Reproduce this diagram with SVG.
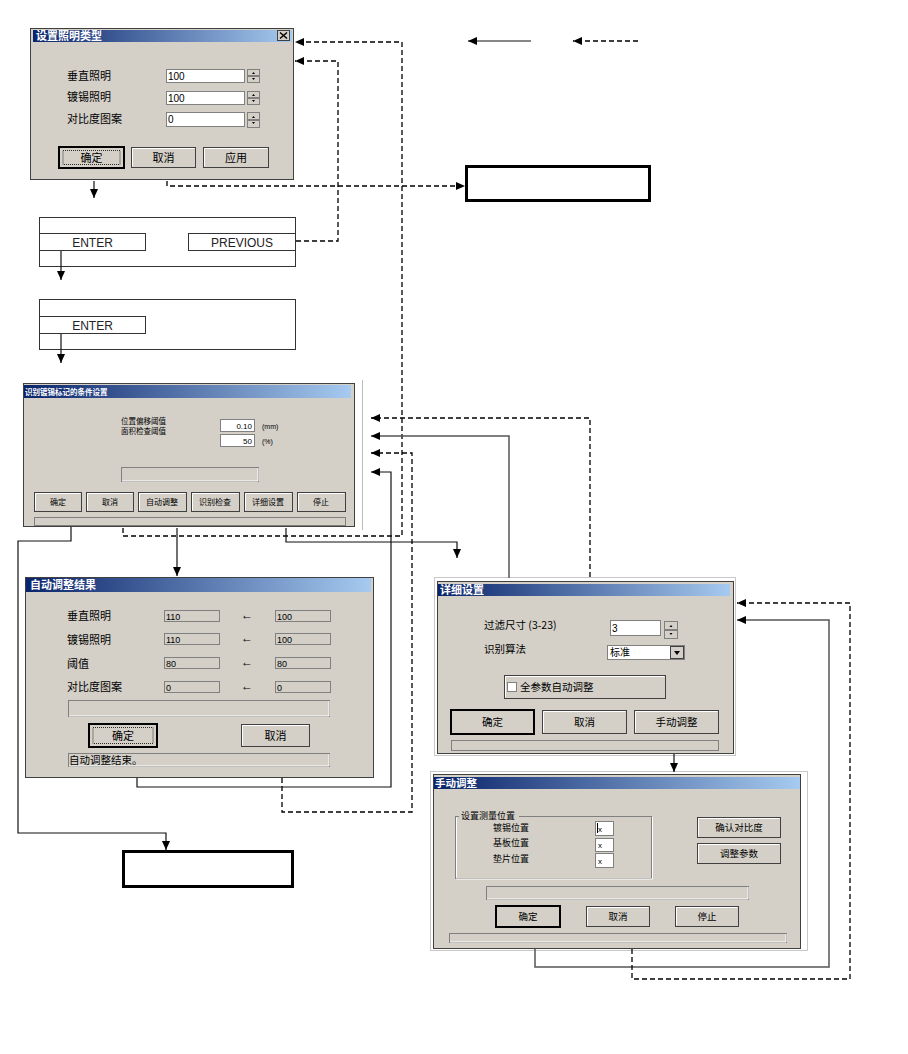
<svg xmlns="http://www.w3.org/2000/svg" width="908" height="1054" viewBox="0 0 908 1054">
<defs>
<linearGradient id="tb" x1="0" y1="0" x2="1" y2="0">
<stop offset="0" stop-color="#0a246a"/>
<stop offset="1" stop-color="#a6caf0"/>
</linearGradient>
<marker id="ah" markerWidth="10" markerHeight="10" refX="9" refY="5" orient="auto" markerUnits="userSpaceOnUse">
<path d="M0,1 L9,5 L0,9 z" fill="#000"/>
</marker>
<style>
.win{fill:#d4d0c8;stroke:#404040;stroke-width:1}
.frame{fill:none;stroke:#c8c8c8;stroke-width:1}
.btn{fill:#d4d0c8;stroke:#404040;stroke-width:1}
.dbtn{fill:#d4d0c8;stroke:#000;stroke-width:2}
.focus{fill:none;stroke:#000;stroke-width:0.8;stroke-dasharray:1,1}
.hl{fill:none;stroke:#fff;stroke-width:1}
.fld{fill:#fff;stroke:#808080;stroke-width:1}
.ro{fill:#d4d0c8;stroke:#808080;stroke-width:1}
.grp{fill:none;stroke:#808080;stroke-width:1}
.t{font-family:"Noto Sans CJK SC","Liberation Sans",sans-serif;fill:#000}
.ttl{font-family:"Noto Sans CJK SC","Liberation Sans",sans-serif;fill:#fff;font-weight:bold}
.num{font-family:"Liberation Sans",sans-serif;fill:#000}
.box{fill:#fff;stroke:#000;stroke-width:3}
.pbox{fill:#fff;stroke:#333;stroke-width:1}
.en{font-family:"Liberation Sans",sans-serif;font-size:12px;fill:#222}
.s{fill:none;stroke:#111;stroke-width:1.2}
.d{fill:none;stroke:#000;stroke-width:1.3;stroke-dasharray:5,3}
.sg{fill:none;stroke:#555;stroke-width:1.5}
</style>
</defs>
<rect width="908" height="1054" fill="#fff"/>

<!-- Dialog 1 -->
<g id="dlg-lighting">
<rect class="win" x="30.5" y="28.5" width="263" height="151"/>
<rect x="33" y="30" width="259" height="12" fill="url(#tb)"/>
<text class="ttl" x="36" y="40" font-size="11">设置照明类型</text>
<rect x="277.5" y="30.5" width="12" height="10" fill="#d4d0c8" stroke="#404040"/>
<path d="M280,32.5 L287,38.5 M287,32.5 L280,38.5" stroke="#000" stroke-width="1.5"/>
<text class="t" x="67" y="80" font-size="11">垂直照明</text>
<text class="t" x="67" y="101" font-size="11">镀锡照明</text>
<text class="t" x="67" y="123" font-size="11">对比度图案</text>
<rect class="fld" x="166.5" y="69.5" width="78" height="13"/>
<rect class="fld" x="166.5" y="91.5" width="78" height="13"/>
<rect class="fld" x="166.5" y="112.5" width="78" height="14"/>
<text class="num" x="168" y="80" font-size="10">100</text>
<text class="num" x="168" y="102" font-size="10">100</text>
<text class="num" x="168" y="123" font-size="10">0</text>
<g fill="#d4d0c8" stroke="#808080">
<rect x="247.5" y="69.5" width="12" height="6"/><rect x="247.5" y="76.5" width="12" height="6"/>
<rect x="247.5" y="91.5" width="12" height="6"/><rect x="247.5" y="98.5" width="12" height="6"/>
<rect x="247.5" y="112.5" width="12" height="7"/><rect x="247.5" y="120.5" width="12" height="7"/>
</g>
<g fill="#000">
<path d="M252,74 L255,74 L253.5,72 z"/><path d="M252,78 L255,78 L253.5,80 z"/>
<path d="M252,96 L255,96 L253.5,94 z"/><path d="M252,100 L255,100 L253.5,102 z"/>
<path d="M252,118 L255,118 L253.5,116 z"/><path d="M252,122 L255,122 L253.5,124 z"/>
</g>
<rect class="dbtn" x="59" y="147" width="65" height="21"/>
<rect class="focus" x="63" y="150.5" width="57" height="14"/>
<rect class="btn" x="131.5" y="147.5" width="64" height="20"/>
<path class="hl" d="M132.5,166.5 V148.5 H194.5"/>
<rect class="btn" x="203.5" y="147.5" width="65" height="20"/>
<path class="hl" d="M204.5,166.5 V148.5 H267.5"/>
<text class="t" x="91.5" y="162" font-size="11" text-anchor="middle">确定</text>
<text class="t" x="163.5" y="162" font-size="11" text-anchor="middle">取消</text>
<text class="t" x="236" y="162" font-size="11" text-anchor="middle">应用</text>
</g>

<!-- Legend -->
<g id="legend">
<path class="s" d="M531,41 H468" marker-end="url(#ah)"/>
<path class="d" d="M638,41 H573" marker-end="url(#ah)"/>
</g>

<!-- Result box top right -->
<g id="box-top"><rect class="box" x="466.5" y="166.5" width="183" height="34"/></g>

<!-- ENTER / PREVIOUS box -->
<g id="box-enter-prev">
<rect class="pbox" x="39.5" y="217.5" width="256" height="49"/>
<rect class="pbox" x="39.5" y="233.5" width="106" height="17"/>
<rect class="pbox" x="188.5" y="233.5" width="107" height="17"/>
<text class="en" x="92.5" y="247" text-anchor="middle">ENTER</text>
<text class="en" x="242" y="247" text-anchor="middle">PREVIOUS</text>
</g>

<!-- ENTER box -->
<g id="box-enter">
<rect class="pbox" x="39.5" y="299.5" width="256" height="50"/>
<rect class="pbox" x="39.5" y="316.5" width="106" height="17"/>
<text class="en" x="92.5" y="330" text-anchor="middle">ENTER</text>
</g>

<!-- Dialog 2 -->
<g id="dlg-condition">
<line x1="362.5" y1="380" x2="362.5" y2="530" stroke="#bbb"/>
<rect class="win" x="23.5" y="383.5" width="331" height="143"/>
<rect x="24" y="385" width="327" height="13" fill="url(#tb)"/>
<text class="ttl" x="25" y="395" font-size="7.5">识别镀锡标记的条件设置</text>
<text class="t" x="121" y="424" font-size="7.5">位置偏移阈值</text>
<text class="t" x="121" y="434" font-size="7.5">面积检查阈值</text>
<rect class="fld" x="220.5" y="419.5" width="34" height="12"/>
<rect class="fld" x="220.5" y="434.5" width="34" height="12"/>
<text class="num" x="252" y="429" font-size="8" text-anchor="end">0.10</text>
<text class="num" x="252" y="444" font-size="8" text-anchor="end">50</text>
<text class="num" x="262" y="429" font-size="7">(mm)</text>
<text class="num" x="262" y="444" font-size="7">(%)</text>
<rect class="ro" x="121.5" y="467.5" width="137" height="14"/>
<path class="hl" d="M122,481 H258 V468"/>
<rect class="btn" x="34.5" y="492.5" width="47" height="19"/>
<rect class="btn" x="86.5" y="492.5" width="47" height="19"/>
<rect class="btn" x="138.5" y="492.5" width="48" height="19"/>
<rect class="btn" x="191.5" y="492.5" width="48" height="19"/>
<rect class="btn" x="244.5" y="492.5" width="48" height="19"/>
<rect class="btn" x="297.5" y="492.5" width="48" height="19"/>
<path class="hl" d="M35.5,510.5 V493.5 H80.5 M87.5,510.5 V493.5 H132.5 M139.5,510.5 V493.5 H185.5 M192.5,510.5 V493.5 H238.5 M245.5,510.5 V493.5 H291.5 M298.5,510.5 V493.5 H344.5"/>
<g font-size="8" text-anchor="middle">
<text class="t" x="58" y="505">确定</text>
<text class="t" x="110" y="505">取消</text>
<text class="t" x="162" y="505">自动调整</text>
<text class="t" x="215" y="505">识别检查</text>
<text class="t" x="268" y="505">详细设置</text>
<text class="t" x="321" y="505">停止</text>
</g>
<rect class="ro" x="34.5" y="517.5" width="311" height="8"/>
</g>

<!-- Dialog 3 -->
<g id="dlg-autoresult">
<rect class="win" x="25.5" y="577.5" width="348" height="200"/>
<rect x="26" y="578" width="345" height="14" fill="url(#tb)"/>
<text class="ttl" x="30" y="589" font-size="11">自动调整结果</text>
<g font-size="11">
<text class="t" x="67" y="620">垂直照明</text>
<text class="t" x="67" y="644">镀锡照明</text>
<text class="t" x="67" y="668">阈值</text>
<text class="t" x="67" y="691">对比度图案</text>
</g>
<g>
<rect class="ro" x="164.5" y="610.5" width="55" height="11"/>
<rect class="ro" x="164.5" y="633.5" width="55" height="11"/>
<rect class="ro" x="164.5" y="657.5" width="55" height="11"/>
<rect class="ro" x="164.5" y="681.5" width="55" height="11"/>
<rect class="ro" x="275.5" y="610.5" width="55" height="11"/>
<rect class="ro" x="275.5" y="633.5" width="55" height="11"/>
<rect class="ro" x="275.5" y="657.5" width="55" height="11"/>
<rect class="ro" x="275.5" y="681.5" width="55" height="11"/>
</g>
<g font-size="9">
<text class="num" x="166" y="620">110</text>
<text class="num" x="166" y="643">110</text>
<text class="num" x="166" y="667">80</text>
<text class="num" x="166" y="691">0</text>
<text class="num" x="277" y="620">100</text>
<text class="num" x="277" y="643">100</text>
<text class="num" x="277" y="667">80</text>
<text class="num" x="277" y="691">0</text>
</g>
<g font-size="12">
<text class="num" x="241" y="619">←</text>
<text class="num" x="241" y="642">←</text>
<text class="num" x="241" y="666">←</text>
<text class="num" x="241" y="690">←</text>
</g>
<rect class="ro" x="68.5" y="700.5" width="261" height="16"/>
<path class="hl" d="M69,716 H329 V701"/>
<rect class="dbtn" x="89" y="724" width="68" height="23"/>
<rect class="focus" x="93" y="727.5" width="60" height="16"/>
<rect class="btn" x="241.5" y="724.5" width="68" height="22"/>
<path class="hl" d="M242.5,745.5 V725.5 H308.5"/>
<text class="t" x="123" y="740" font-size="11" text-anchor="middle">确定</text>
<text class="t" x="275.5" y="740" font-size="11" text-anchor="middle">取消</text>
<rect class="ro" x="68.5" y="753.5" width="261" height="13"/>
<path class="hl" d="M69,766 H329 V754"/>
<text class="t" x="69" y="764" font-size="10.5">自动调整结束。</text>
</g>

<!-- Dialog 4 -->
<g id="dlg-detail">
<rect class="frame" x="434.5" y="577.5" width="301" height="178"/>
<rect class="win" x="437.5" y="581.5" width="296" height="172"/>
<rect x="438" y="584" width="292" height="12" fill="url(#tb)"/>
<text class="ttl" x="440" y="594" font-size="11">详细设置</text>
<text class="t" x="484" y="629" font-size="10.5">过滤尺寸 (3-23)</text>
<text class="t" x="484" y="653" font-size="10.5">识别算法</text>
<rect class="fld" x="610.5" y="620.5" width="50" height="15"/>
<text class="num" x="612" y="632" font-size="10">3</text>
<rect x="664.5" y="621.5" width="13" height="8" fill="#d4d0c8" stroke="#808080"/>
<rect x="664.5" y="630.5" width="13" height="8" fill="#d4d0c8" stroke="#808080"/>
<path d="M669.5,627 L672.5,627 L671,625 z M669.5,633 L672.5,633 L671,635 z" fill="#000"/>
<rect class="fld" x="607.5" y="645.5" width="77" height="14"/>
<text class="t" x="610" y="656" font-size="10">标准</text>
<rect class="btn" x="670.5" y="646.5" width="13" height="12"/>
<path d="M674,651 L680,651 L677,655 z" fill="#000"/>
<rect class="btn" x="504.5" y="675.5" width="161" height="23"/>
<path class="hl" d="M505.5,697.5 V676.5 H664.5"/>
<rect class="fld" x="507.5" y="682.5" width="9" height="9"/>
<text class="t" x="520" y="691" font-size="10.5">全参数自动调整</text>
<rect class="dbtn" x="451" y="710" width="83" height="24"/>
<rect class="btn" x="542.5" y="710.5" width="84" height="23"/>
<rect class="btn" x="634.5" y="710.5" width="84" height="23"/>
<path class="hl" d="M543.5,732.5 V711.5 H625.5 M635.5,732.5 V711.5 H717.5"/>
<text class="t" x="492.5" y="726" font-size="10.5" text-anchor="middle">确定</text>
<text class="t" x="584.5" y="726" font-size="10.5" text-anchor="middle">取消</text>
<text class="t" x="676.5" y="726" font-size="10.5" text-anchor="middle">手动调整</text>
<rect class="ro" x="451.5" y="740.5" width="267" height="10"/>
</g>

<!-- Dialog 5 -->
<g id="dlg-manual">
<rect class="frame" x="430.5" y="771.5" width="377" height="179"/>
<rect class="win" x="433.5" y="774.5" width="367" height="174"/>
<rect x="434" y="777" width="366" height="12" fill="url(#tb)"/>
<text class="ttl" x="435" y="787" font-size="10.5">手动调整</text>
<rect class="grp" x="455.5" y="816.5" width="196" height="62"/>
<path class="hl" d="M456.5,877.5 V817.5 M652.5,817 V879 H456"/>
<rect x="459" y="811" width="60" height="9" fill="#d4d0c8"/>
<text class="t" x="461" y="819" font-size="9">设置测量位置</text>
<text class="t" x="493" y="830.5" font-size="9">镀锡位置</text>
<text class="t" x="493" y="846" font-size="9">基板位置</text>
<text class="t" x="493" y="862" font-size="9">垫片位置</text>
<rect class="fld" x="595.5" y="821.5" width="18" height="14"/>
<rect class="fld" x="595.5" y="838.5" width="18" height="13"/>
<rect class="fld" x="595.5" y="853.5" width="18" height="14"/>
<line x1="597.5" y1="823" x2="597.5" y2="833" stroke="#000"/>
<text class="num" x="598" y="832" font-size="8">x</text>
<text class="num" x="598" y="848" font-size="8">x</text>
<text class="num" x="598" y="864" font-size="8">x</text>
<rect class="btn" x="697.5" y="817.5" width="83" height="20"/>
<rect class="btn" x="697.5" y="843.5" width="83" height="20"/>
<path class="hl" d="M698.5,836.5 V818.5 H779.5 M698.5,862.5 V844.5 H779.5"/>
<text class="t" x="739" y="831" font-size="9.5" text-anchor="middle">确认对比度</text>
<text class="t" x="739" y="857" font-size="9.5" text-anchor="middle">调整参数</text>
<rect class="ro" x="486.5" y="886.5" width="262" height="13"/>
<path class="hl" d="M487,899 H748 V887"/>
<rect class="dbtn" x="496" y="906" width="64" height="21"/>
<rect class="btn" x="586.5" y="906.5" width="63" height="20"/>
<rect class="btn" x="675.5" y="906.5" width="63" height="20"/>
<path class="hl" d="M587.5,925.5 V907.5 H648.5 M676.5,925.5 V907.5 H737.5"/>
<text class="t" x="528" y="920" font-size="9.5" text-anchor="middle">确定</text>
<text class="t" x="618" y="920" font-size="9.5" text-anchor="middle">取消</text>
<text class="t" x="707" y="920" font-size="9.5" text-anchor="middle">停止</text>
<rect class="ro" x="449.5" y="933.5" width="337" height="9"/>
<path class="hl" d="M450,942 H786 V934"/>
</g>

<!-- Bottom box -->
<g id="box-bottom"><rect class="box" x="123.5" y="851.5" width="169" height="35"/></g>

<!-- Connectors -->
<g id="connectors">
<path class="s" d="M94,181 V198" marker-end="url(#ah)"/>
<path class="d" d="M167,181 V186 H465" marker-end="url(#ah)"/>
<path class="d" d="M296,241 H338 V61 H295" marker-end="url(#ah)"/>
<path class="s" d="M61,251 V280" marker-end="url(#ah)"/>
<path class="s" d="M61,334 V363" marker-end="url(#ah)"/>
<path class="s" d="M71,527 V541 H18 V833 H166 V850" marker-end="url(#ah)"/>
<path class="d" d="M123,528 V536 H402 V42 H295" marker-end="url(#ah)"/>
<path class="s" d="M177,528 V576" marker-end="url(#ah)"/>
<path class="s" d="M286,528 V542 H457 V558" marker-end="url(#ah)"/>
<path class="d" d="M590,577 V418 H371" marker-end="url(#ah)"/>
<path class="sg" d="M509,578 V436 H371" marker-end="url(#ah)"/>
<path class="d" d="M282,778 V812 H412 V453 H371" marker-end="url(#ah)"/>
<path class="s" d="M137,778 V787 H391 V472 H371" marker-end="url(#ah)"/>
<path class="s" d="M674,754 V772" marker-end="url(#ah)"/>
<path class="sg" d="M535,949 V967 H829 V620 H737" marker-end="url(#ah)"/>
<path class="d" d="M632,949 V979 H850 V603 H737" marker-end="url(#ah)"/>
</g>
</svg>
